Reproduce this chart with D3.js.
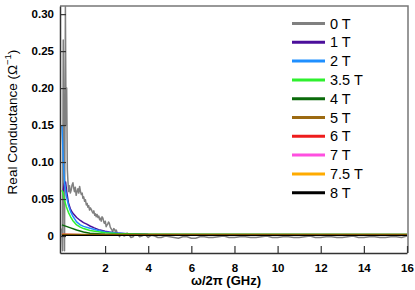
<!DOCTYPE html>
<html><head><meta charset="utf-8">
<script src="https://cdn.jsdelivr.net/npm/d3@7"></script>
<style>body{margin:0;background:#fff}svg{display:block}</style>
</head><body><svg id="c" width="415" height="290"></svg>
<script>
const fields = ["0 T","1 T","2 T","3.5 T","4 T","5 T","6 T","7 T","7.5 T","8 T"];
const colors = ["#808080","#4b0f9b","#1f8fff","#2ef02e","#0a6a0a","#9c6a12","#ee1c1c","#ff4fe0","#ffab00","#000000"];
const xTicks = [2,4,6,8,10,12,14,16];
const yTicks = [0,0.05,0.10,0.15,0.20,0.25,0.30];
const yTickLabels = ["0","0.05","0.10","0.15","0.20","0.25","0.30"];

const s0T = [[0.0,0.01],[0.03,-0.02],[0.06,0.265],[0.09,0.12],[0.12,-0.02],[0.16,0.31],[0.19,0.15],[0.22,0.2],[0.25,0.09],[0.28,0.073],[0.31,0.06],[0.35,0.068],[0.39,0.058],[0.43,0.062],[0.47,0.069],[0.51,0.072],[0.55,0.064],[0.58,0.06],[0.62,0.066],[0.66,0.055],[0.7,0.06],[0.74,0.064],[0.78,0.058],[0.82,0.067],[0.86,0.06],[0.9,0.056],[0.94,0.058],[0.97,0.051],[1.01,0.053],[1.05,0.047],[1.09,0.049],[1.13,0.042],[1.17,0.044],[1.2,0.039],[1.24,0.041],[1.28,0.035],[1.32,0.038],[1.36,0.036],[1.4,0.033],[1.44,0.031],[1.48,0.034],[1.52,0.028],[1.56,0.03],[1.59,0.026],[1.63,0.029],[1.67,0.025],[1.71,0.027],[1.75,0.022],[1.79,0.024],[1.82,0.02],[1.86,0.026],[1.9,0.024],[1.94,0.019],[1.97,0.017],[2.01,0.02],[2.05,0.0126],[2.09,0.015],[2.12,0.016],[2.16,0.019],[2.2,0.017],[2.24,0.012],[2.28,0.01],[2.32,0.008],[2.36,0.006],[2.4,0.01],[2.44,0.009],[2.48,0.005],[2.52,0.008],[2.56,0.004],[2.6,0.003],[2.64,0.001],[2.67,-0.001],[2.72,0.002],[2.8,0.003],[2.88,0.0],[2.95,0.001],[3.02,0.004],[3.1,0.002],[3.2,-0.002],[3.3,-0.001],[3.4,0.003],[3.5,0.002],[3.6,-0.001],[3.7,0.0],[3.85,0.002],[4.0,-0.002],[4.15,0.001],[4.3,0.0],[4.45,-0.002],[4.6,-0.002],[4.8,0.0],[5.0,-0.001],[5.2,-0.002],[5.4,-0.003],[5.6,-0.001],[5.8,-0.001],[6.0,-0.003],[6.2,-0.003],[6.4,-0.001],[6.6,-0.001],[6.8,-0.002],[7.0,-0.002],[7.25,-0.001],[7.5,0.0],[7.75,-0.002],[8.0,-0.002],[8.25,-0.001],[8.5,-0.001],[8.75,-0.002],[9.0,-0.002],[9.25,-0.001],[9.5,0.0],[9.75,-0.002],[10.0,-0.002],[10.25,-0.001],[10.5,-0.001],[10.75,-0.002],[11.0,-0.002],[11.25,-0.001],[11.5,0.0],[11.75,-0.002],[12.0,-0.002],[12.25,-0.001],[12.5,-0.001],[12.75,-0.002],[13.0,-0.002],[13.25,-0.001],[13.5,0.0],[13.75,-0.002],[14.0,-0.002],[14.25,-0.001],[14.5,-0.001],[14.75,-0.002],[15.0,-0.002],[15.25,-0.001],[15.5,-0.001],[15.75,-0.002],[16.0,0.0]];
const s1T = [[0.05,0.06],[0.12,0.072],[0.17,0.073],[0.22,0.06],[0.3,0.045],[0.4,0.036],[0.5,0.031],[0.68,0.025],[0.85,0.021],[1.0,0.018],[1.15,0.016],[1.3,0.0135],[1.5,0.011],[1.76,0.008],[2.0,0.0065],[2.2,0.0054],[2.5,0.004],[3.0,0.003],[4.0,0.002],[16.0,0.0015]];
const s2T = [[0.0,0.15],[0.04,0.12],[0.08,0.09],[0.13,0.07],[0.2,0.055],[0.3,0.042],[0.4,0.033],[0.5,0.027],[0.68,0.019],[0.85,0.015],[1.0,0.013],[1.3,0.0105],[1.6,0.008],[2.0,0.0055],[2.5,0.004],[3.0,0.003],[4.0,0.002],[16.0,0.0015]];
const s35T = [[0.0,0.062],[0.05,0.058],[0.1,0.05],[0.2,0.04],[0.3,0.032],[0.4,0.026],[0.5,0.021],[0.68,0.015],[0.85,0.012],[1.0,0.01],[1.3,0.0075],[1.6,0.006],[2.0,0.0045],[2.5,0.0035],[3.0,0.003],[4.0,0.0025],[16.0,0.002]];
const s4T = [[0.0,0.015],[0.2,0.013],[0.4,0.011],[0.68,0.008],[1.0,0.0055],[1.3,0.0037],[2.0,0.0025],[16.0,0.002]];
const s5T = [[0.0,0.0025],[1.0,0.002],[4.0,0.0019],[16.0,0.0019]];
const s6T = [[0.0,0.002],[1.0,0.0018],[16.0,0.0017]];
const s7T = [[0.0,0.002],[1.0,0.0017],[16.0,0.0016]];
const s75T = [[0.0,0.002],[1.0,0.0017],[16.0,0.0016]];
const s8T = [[0.0,0.001],[1.0,0.001],[16.0,0.001]];
const series = [s0T,s1T,s2T,s35T,s4T,s5T,s6T,s7T,s75T,s8T];

const svg = d3.select("#c");
const L=60,R=407,T=6,B=253;
const x = d3.scaleLinear().domain([-0.09,16]).range([L,R]);
const y = d3.scaleLinear().domain([-0.023,0.311]).range([B,T]);

svg.append("defs").append("clipPath").attr("id","clip").append("rect")
  .attr("x",L).attr("y",T).attr("width",R-L).attr("height",B-T);

const line = d3.line().x(d=>x(d[0])).y(d=>y(d[1]));
const g = svg.append("g").attr("clip-path","url(#clip)");
series.forEach((s,i)=>{
  g.append("path").datum(s).attr("d",line).attr("fill","none")
   .attr("stroke",colors[i]).attr("stroke-width",1.5).attr("stroke-linejoin","round");
});
svg.append("path").attr("d",`M${L},${T}H${R+1}V${B}`).attr("fill","none").attr("stroke","#777").attr("stroke-width",1.5);

const xa = svg.append("g").attr("transform",`translate(0,${B})`)
  .call(d3.axisBottom(x).tickValues(xTicks).tickSizeInner(-7).tickSizeOuter(0).tickPadding(11));
const ya = svg.append("g").attr("transform",`translate(${L},0)`)
  .call(d3.axisLeft(y).tickValues(yTicks).tickFormat((d,i)=>yTickLabels[i]).tickSizeInner(-6).tickSizeOuter(0).tickPadding(6));
[xa,ya].forEach(a=>{
  a.select(".domain").attr("stroke","#333").attr("stroke-width",1.5);
  a.selectAll(".tick line").attr("stroke","#333").attr("stroke-width",1.2);
  a.selectAll("text").attr("font-family","Liberation Sans, Arial, sans-serif").attr("font-size",11.5).attr("font-weight","bold").attr("fill","#000");
});

svg.append("text").attr("x",226).attr("y",285).attr("text-anchor","middle")
  .attr("font-family","Liberation Sans, Arial, sans-serif").attr("font-size",13).attr("font-weight","bold")
  .text("ω/2π (GHz)");
const yt = svg.append("text").attr("transform","translate(17,122) rotate(-90)").attr("text-anchor","middle")
  .attr("font-family","Liberation Sans, Arial, sans-serif").attr("font-size",13.5);
yt.append("tspan").text("Real Conductance (Ω");
yt.append("tspan").attr("dy",-6).attr("font-size",9.5).text("−1");
yt.append("tspan").attr("dy",6).text(")");

const lg = svg.append("g");
fields.forEach((f,i)=>{
  const yy = 23.5 + i*18.8;
  lg.append("line").attr("x1",292).attr("x2",325).attr("y1",yy).attr("y2",yy).attr("stroke",colors[i]).attr("stroke-width",3);
  lg.append("text").attr("x",330).attr("y",yy+5).attr("font-family","Liberation Sans, Arial, sans-serif").attr("font-size",14.5).attr("fill","#000").text(f);
});
</script></body></html>
